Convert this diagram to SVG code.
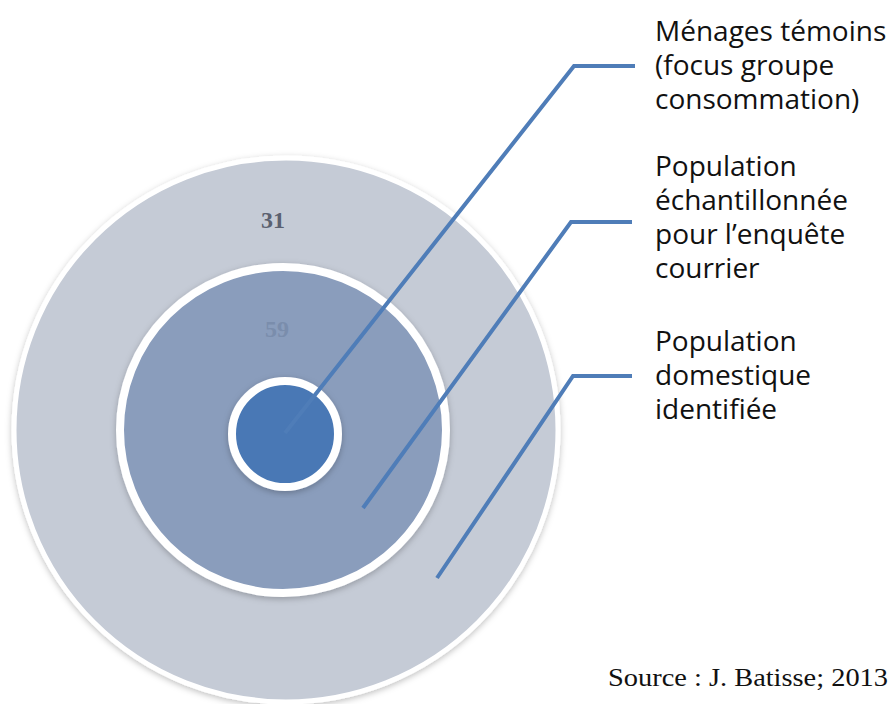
<svg xmlns="http://www.w3.org/2000/svg" width="890" height="704" viewBox="0 0 890 704">
<defs>
<filter id="sh" x="-10%" y="-10%" width="120%" height="120%">
<feDropShadow dx="0" dy="2" stdDeviation="3" flood-color="#000" flood-opacity="0.25"/>
</filter>
</defs>
<style>
.lbl{font-family:"Open Sans","Liberation Sans",sans-serif;font-size:28px;fill:#111}
.num{font-family:"Liberation Serif","DejaVu Serif",serif;font-weight:bold;font-size:24px}
.con{fill:none;stroke:#4F7DB8;stroke-width:4;stroke-linejoin:miter}
</style>
<rect width="890" height="704" fill="#fff"/>
<g id="outer"><circle cx="286" cy="430" r="272" fill="#C5CBD6" stroke="#fff" stroke-width="5" filter="url(#sh)"/></g>
<g id="middle"><circle cx="283" cy="430" r="163" fill="#8A9DBC" stroke="#fff" stroke-width="8" filter="url(#sh)"/></g>
<g id="inner"><circle cx="285" cy="434" r="53" fill="#4978B5" stroke="#fff" stroke-width="8" filter="url(#sh)"/></g>
<text class="num" x="273" y="228" text-anchor="middle" fill="#5B6170">31</text>
<text class="num" x="277" y="337" text-anchor="middle" fill="#7A8DAC">59</text>
<g id="connectors">
<polyline class="con" points="285,433 574,66 635,66"/>
<polyline class="con" points="363,508 571,222 632,222"/>
<polyline class="con" points="437,578 573,376 632,376"/>
</g>
<g id="label1"><text class="lbl"><tspan x="655" y="41">Ménages témoins</tspan><tspan x="655" y="75">(focus groupe</tspan><tspan x="655" y="109">consommation)</tspan></text></g>
<g id="label2"><text class="lbl"><tspan x="655" y="176">Population</tspan><tspan x="655" y="210">échantillonnée</tspan><tspan x="655" y="244">pour l’enquête</tspan><tspan x="655" y="278">courrier</tspan></text></g>
<g id="label3"><text class="lbl"><tspan x="655" y="351">Population</tspan><tspan x="655" y="385">domestique</tspan><tspan x="655" y="419">identifiée</tspan></text></g>
<text x="608" y="686" font-family="Liberation Serif,serif" font-size="26" fill="#111" textLength="280" lengthAdjust="spacingAndGlyphs">Source : J. Batisse; 2013</text>
</svg>
